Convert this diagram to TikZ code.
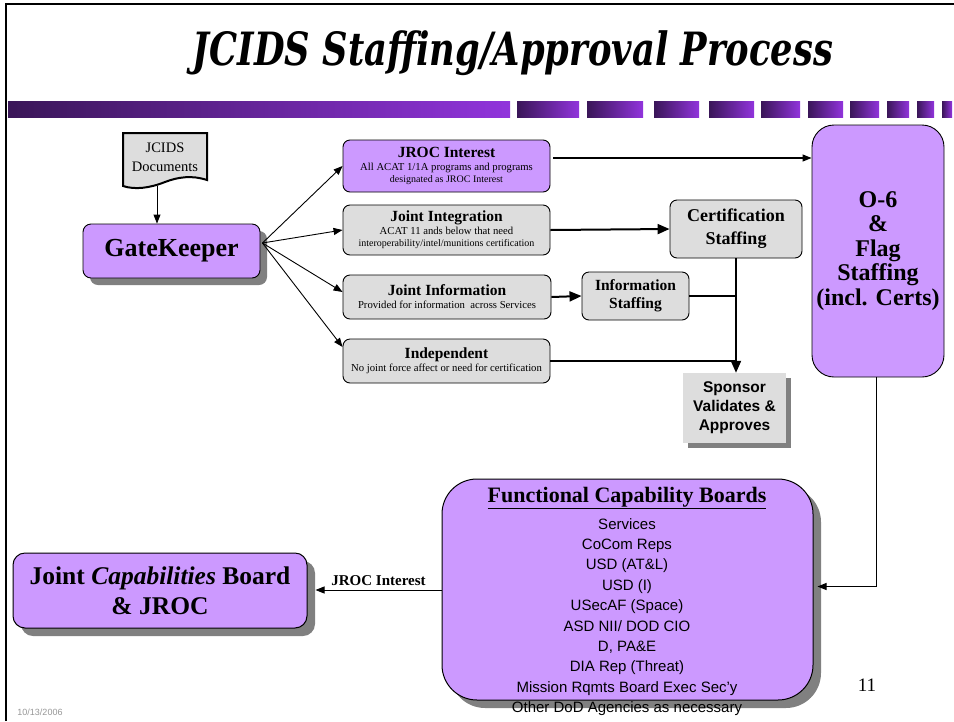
\documentclass[tikz,border=0pt]{standalone}
\usepackage{fontspec}
\setmainfont{Liberation Serif}
\setsansfont{Liberation Sans}
\newfontfamily\titlefont{DejaVu Serif}
\usetikzlibrary{arrows.meta,shadows}
\definecolor{purp}{RGB}{204,153,255}
\definecolor{boxgray}{RGB}{221,221,221}
\definecolor{shadowgray}{RGB}{128,128,128}
\definecolor{bardark}{RGB}{58,22,88}
\definecolor{barlight}{RGB}{145,52,220}
\definecolor{dategray}{RGB}{150,150,150}
\tikzset{
  arr/.style={-{Triangle[length=9pt,width=7pt]}, line width=0.9pt},
  tarr/.style={-{Triangle[length=12pt,width=10pt]}, line width=2pt},
  tline/.style={line width=2pt},
  sbox/.style={draw, line width=0.9pt, rounded corners=7pt, fill=boxgray, align=center, inner sep=0pt},
  pbox/.style={sbox, fill=purp},
  shad/.style={drop shadow={shadow xshift=#1, shadow yshift=-#1, fill=shadowgray, opacity=1}},
}
\newcommand{\boxtext}[2]{\fontsize{15.5}{17}\selectfont\bfseries #1\\[1pt]\fontsize{10.7}{11.5}\selectfont\mdseries #2}
\begin{document}
\begin{tikzpicture}[x=1pt,y=-1pt]
\useasboundingbox (0,0) rectangle (954,721);
% frame
\draw[line width=2pt] (6,721) -- (6,4) -- (954,4);
% title
\node[inner sep=0pt] (title) at (513,53.5) {\resizebox*{640pt}{45pt}{\titlefont\bfseries\itshape JCIDS Staffing/Approval Process}};
% gradient bar
\shade[left color=bardark, right color=barlight] (8,101) rectangle (510,117);
\foreach \a/\b in {517/579,587/643,654/699,709/754,761/800,808/843,850/879,887/909,917/934,942/952}
  \shade[left color=bardark, right color=barlight] (\a,101) rectangle (\b,117);
% JCIDS documents
\draw[line width=2pt, fill=boxgray] (123,133) -- (207,133) -- (207,180)
  .. controls (192,175) and (178,177) .. (165,182)
  .. controls (150,188) and (135,190) .. (123,186) -- cycle;
\node[align=center, inner sep=0pt, font=\fontsize{14.5}{19}\selectfont] (doc) at (165,157) {JCIDS\\Documents};
\coordinate (docbot) at (157,186);
% GateKeeper
\node[pbox, rounded corners=8pt, shad=7pt, minimum width=177pt, minimum height=54pt, font=\fontsize{26}{28}\selectfont\bfseries] (gk) at (171.5,251) {GateKeeper};
\draw[arr] (docbot) -- (docbot |- gk.north);
% four classification boxes
\node[pbox, minimum width=207pt, minimum height=52pt] (jroc) at (446.5,166) {\boxtext{JROC Interest}{All ACAT 1/1A programs and programs\\designated as JROC Interest}};
\node[sbox, minimum width=207pt, minimum height=50pt] (ji) at (446.5,230) {\boxtext{Joint Integration}{ACAT 11 ands below that need\\interoperability/intel/munitions certification}};
\node[sbox, minimum width=208pt, minimum height=44pt] (jinfo) at (447,297) {\boxtext{Joint Information}{Provided for information\ \ across Services}};
\node[sbox, minimum width=207pt, minimum height=44pt] (indep) at (446.5,361) {\boxtext{Independent}{No joint force affect or need for certification}};
% staffing boxes
\node[sbox, minimum width=132pt, minimum height=58pt, font=\fontsize{18}{23}\selectfont\bfseries] (cert) at (736,229) {Certification\\Staffing};
\node[sbox, minimum width=107pt, minimum height=48pt, font=\fontsize{15.5}{18}\selectfont\bfseries] (infos) at (635.5,296) {Information\\Staffing};
\node[draw=none, fill=boxgray, shad=5pt, minimum width=103pt, minimum height=70pt, align=center, inner sep=0pt, font=\sffamily\fontsize{15.5}{19}\selectfont\bfseries] (sponsor) at (734.5,408) {Sponsor\\Validates \&\\Approves};
% O-6
\node[pbox, rounded corners=22pt, minimum width=132pt, minimum height=252pt, font=\fontsize{24}{24.5}\selectfont\bfseries] (o6) at (878,251) {O-6\\\&\\Flag\\Staffing\\(incl. Certs)};
% fan arrows
\coordinate (fan) at ([xshift=2pt,yshift=8pt]gk.east);
\draw[arr] (fan) -- (jroc.west);
\draw[arr] (fan) -- (ji.west);
\draw[arr] (fan) -- ([yshift=5pt]jinfo.west);
\draw[arr] (fan) -- ([yshift=14pt]indep.west);
% flows
\draw[arr, line width=1.2pt] ([xshift=3pt,yshift=8pt]jroc.east) -- ([yshift=8pt]jroc.east -| o6.west);
\draw[tarr] (ji.east) -- (cert.west);
\draw[tarr] (jinfo.east) -- (infos.west);
\draw[tline] (infos.east) -- (infos.east -| cert.south);
\draw[tline] (indep.east) -- (indep.east -| cert.south);
\draw[tarr] (cert.south) -- (sponsor.north -| cert.south);
% FCB
\node[pbox, rounded corners=35pt, shad=8pt, minimum width=371pt, minimum height=221pt, line width=1pt] (fcb) at (627.5,589.5) {};
\node[inner sep=0pt, font=\fontsize{22}{24}\selectfont\bfseries] (fcbt) at (627,498) {\underline{Functional Capability Boards}};
\node[inner sep=0pt, align=center, font=\sffamily\fontsize{15}{20.4}\selectfont] (fcbl) at (627,617) {Services\\CoCom Reps\\USD (AT\&L)\\USD (I)\\USecAF (Space)\\ASD NII/ DOD CIO\\D, PA\&E\\DIA Rep (Threat)\\Mission Rqmts Board Exec Sec'y\\Other DoD Agencies as necessary};
\draw[arr] ([xshift=-2pt]o6.south) |- ([xshift=4pt,yshift=3pt]fcb.east);
% JCB
\node[pbox, rounded corners=12pt, shad=8pt, minimum width=294pt, minimum height=75pt, line width=1pt, font=\fontsize{25.5}{30}\selectfont\bfseries] (jcb) at (160,590.5) {Joint \textit{Capabilities} Board\\\& JROC};
\draw[arr] ([yshift=-0.5pt]fcb.west) -- node[above=1pt, font=\fontsize{15}{16}\selectfont\bfseries] (lbl) {JROC Interest} ([xshift=8pt,yshift=-0.5pt]fcb.west -| jcb.east);
% page number and date
\node[font=\fontsize{19}{20}\selectfont] (pg) at (867,685) {11};
\node[font=\sffamily\fontsize{9}{10}\selectfont, text=dategray] (date) at (40,712) {10/13/2006};
\end{tikzpicture}
\end{document}
